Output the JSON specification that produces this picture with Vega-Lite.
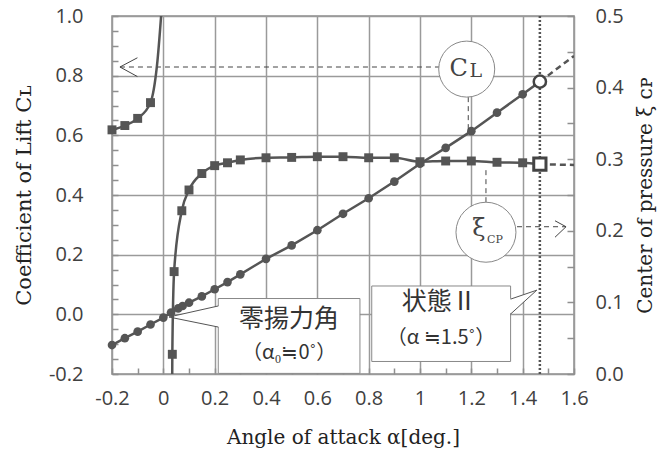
{
  "$schema": "https://vega.github.io/schema/vega-lite/v6.json",
  "width": 462,
  "height": 358,
  "autosize": {"type": "none"},
  "padding": {"left": 112, "top": 16, "right": 92, "bottom": 87},
  "background": "white",
  "config": {
    "view": {"stroke": "#8f8f8f", "strokeWidth": 1.5},
    "axis": {
      "labelFont": "Open Sans", "labelFontSize": 20, "labelColor": "#404040",
      "titleFont": "DejaVu Serif", "titleFontSize": 20, "titleFontWeight": "normal", "titleColor": "#222",
      "domain": false, "tickColor": "#8f8f8f", "tickWidth": 1.5, "gridColor": "#9a9a9a", "gridWidth": 1.5
    }
  },
  "datasets": {
    "cl": [
      {"x": -0.2, "y": -0.103, "m": 1}, {"x": -0.15, "y": -0.08, "m": 1}, {"x": -0.1, "y": -0.058, "m": 1}, {"x": -0.05, "y": -0.034, "m": 1},
      {"x": 0.0, "y": -0.011, "m": 1}, {"x": 0.03, "y": 0.006, "m": 1}, {"x": 0.058, "y": 0.02, "m": 1}, {"x": 0.075, "y": 0.028, "m": 1},
      {"x": 0.1, "y": 0.039, "m": 1}, {"x": 0.15, "y": 0.06, "m": 1}, {"x": 0.2, "y": 0.084, "m": 1}, {"x": 0.25, "y": 0.108, "m": 1},
      {"x": 0.3, "y": 0.134, "m": 1}, {"x": 0.4, "y": 0.186, "m": 1}, {"x": 0.5, "y": 0.231, "m": 1}, {"x": 0.6, "y": 0.282, "m": 1},
      {"x": 0.7, "y": 0.337, "m": 1}, {"x": 0.8, "y": 0.389, "m": 1}, {"x": 0.9, "y": 0.445, "m": 1}, {"x": 1.0, "y": 0.505, "m": 1},
      {"x": 1.1, "y": 0.558, "m": 1}, {"x": 1.2, "y": 0.614, "m": 1}, {"x": 1.3, "y": 0.676, "m": 1}, {"x": 1.4, "y": 0.7375, "m": 1},
      {"x": 1.467, "y": 0.78, "m": 0}
    ],
    "cl_state": [{"x": 1.467, "y": 0.78}],
    "cl_ext": [{"x": 1.467, "y": 0.78}, {"x": 1.6, "y": 0.866}],
    "state_line": [{"x": 1.467}],
    "cl_dash": [
      {"x": -0.169, "y": 0.829, "x2": 1.074, "y2": 0.829},
      {"x": 1.188, "y": 0.728, "x2": 1.188, "y2": 0.612}
    ],
    "cl_solid": [
      {"x": -0.169, "y": 0.829, "x2": -0.101, "y2": 0.86},
      {"x": -0.169, "y": 0.829, "x2": -0.101, "y2": 0.797}
    ],
    "cl_bubble": [{"x": 1.182, "y": 0.822}],
    "boxes": [
      {"x": 0.214, "x2": 0.766, "y": 0.053, "y2": -0.198},
      {"x": 0.812, "x2": 1.353, "y": 0.095, "y2": -0.158}
    ],
    "wedges": [
      {"x": 0.022, "y": -0.009, "y2": -0.009},
      {"x": 0.218, "y": 0.028, "y2": -0.0426}
    ],
    "wedges2": [
      {"x": 1.349, "y": 0.051, "y2": 0.001},
      {"x": 1.455, "y": 0.081, "y2": 0.081}
    ],
    "wedge_lines": [
      {"x": 0.022, "y": -0.009, "x2": 0.214, "y2": 0.028},
      {"x": 0.022, "y": -0.009, "x2": 0.214, "y2": -0.0426},
      {"x": 1.455, "y": 0.081, "x2": 1.353, "y2": 0.051},
      {"x": 1.455, "y": 0.081, "x2": 1.353, "y2": 0.001}
    ],
    "xi": [
      {"x": -0.2, "y": 0.341, "b": "L", "m": 1}, {"x": -0.15, "y": 0.347, "b": "L", "m": 1},
      {"x": -0.1, "y": 0.357, "b": "L", "m": 1}, {"x": -0.05, "y": 0.379, "b": "L", "m": 1},
      {"x": -0.025, "y": 0.43, "b": "L", "m": 0}, {"x": 0.003, "y": 0.56, "b": "L", "m": 0},
      {"x": 0.033, "y": -0.15, "b": "R", "m": 0}, {"x": 0.035, "y": 0.0275, "b": "R", "m": 1},
      {"x": 0.042, "y": 0.143, "b": "R", "m": 1}, {"x": 0.072, "y": 0.228, "b": "R", "m": 1},
      {"x": 0.1, "y": 0.257, "b": "R", "m": 1}, {"x": 0.15, "y": 0.28, "b": "R", "m": 1},
      {"x": 0.2, "y": 0.291, "b": "R", "m": 1}, {"x": 0.25, "y": 0.295, "b": "R", "m": 1},
      {"x": 0.3, "y": 0.299, "b": "R", "m": 1}, {"x": 0.4, "y": 0.302, "b": "R", "m": 1},
      {"x": 0.5, "y": 0.3025, "b": "R", "m": 1}, {"x": 0.6, "y": 0.3035, "b": "R", "m": 1},
      {"x": 0.7, "y": 0.3035, "b": "R", "m": 1}, {"x": 0.8, "y": 0.302, "b": "R", "m": 1},
      {"x": 0.9, "y": 0.302, "b": "R", "m": 1}, {"x": 1.0, "y": 0.2965, "b": "R", "m": 1},
      {"x": 1.1, "y": 0.2975, "b": "R", "m": 1}, {"x": 1.2, "y": 0.2975, "b": "R", "m": 1},
      {"x": 1.3, "y": 0.2957, "b": "R", "m": 1}, {"x": 1.4, "y": 0.295, "b": "R", "m": 1},
      {"x": 1.467, "y": 0.293, "b": "R", "m": 0}
    ],
    "xi_state": [{"x": 1.467, "y": 0.293}],
    "xi_ext": [{"x": 1.467, "y": 0.293}, {"x": 1.6, "y": 0.292}],
    "xi_bubble": [{"x": 1.257, "y": 0.198}],
    "xi_dash": [
      {"x": 1.378, "y": 0.2057, "x2": 1.569, "y2": 0.2057},
      {"x": 1.257, "y": 0.24, "x2": 1.257, "y2": 0.29}
    ],
    "xi_solid": [
      {"x": 1.569, "y": 0.2057, "x2": 1.526, "y2": 0.214},
      {"x": 1.569, "y": 0.2057, "x2": 1.526, "y2": 0.191}
    ]
  },
  "encoding": {
    "x": {
      "field": "x", "type": "quantitative",
      "scale": {"domain": [-0.2, 1.6], "nice": false, "zero": false},
      "axis": {
        "orient": "bottom",
        "values": [-0.2, -0.1, 0, 0.1, 0.2, 0.3, 0.4, 0.5, 0.6, 0.7, 0.8, 0.9, 1, 1.1, 1.2, 1.3, 1.4, 1.5, 1.6],
        "labelExpr": "abs(round(datum.value*10)) % 2 == 0 ? toString(round(datum.value*10)/10) : ''",
        "gridOpacity": {"condition": {"test": "abs(round(datum.value*10)) % 2 == 0", "value": 1}, "value": 0},
        "tickSize": -6,
        "labelPadding": 20,
        "labelFlush": false,
        "title": "Angle of attack  α[deg.]",
        "titlePadding": 19
      }
    }
  },
  "layer": [
    {
      "encoding": {
        "y": {
          "field": "y", "type": "quantitative",
          "scale": {"domain": [-0.2, 1.0], "nice": false, "zero": false},
          "axis": {
            "orient": "left",
            "values": [-0.2, -0.15, -0.1, -0.05, 0, 0.05, 0.1, 0.15, 0.2, 0.25, 0.3, 0.35, 0.4, 0.45, 0.5, 0.55, 0.6, 0.65, 0.7, 0.75, 0.8, 0.85, 0.9, 0.95, 1.0],
            "labelExpr": "abs(round(datum.value*20)) % 4 == 0 ? replace(format(datum.value, '.1f'), '\u2212', '-') : ''",
            "gridOpacity": {"condition": {"test": "abs(round(datum.value*20)) % 4 == 0", "value": 1}, "value": 0},
            "tickSize": -6,
            "labelPadding": 35,
            "labelFlush": false,
            "title": "Coefficient of Lift  Cʟ",
            "titleFontSize": 21,
            "titlePadding": 14
          }
        }
      },
      "layer": [
        {"data": {"name": "cl"}, "mark": {"type": "line", "color": "#555", "strokeWidth": 2.5}},
        {"data": {"name": "cl_ext"}, "mark": {"type": "line", "color": "#555", "strokeWidth": 2.5, "strokeDash": [6, 4], "clip": true}},
        {"data": {"name": "cl"}, "transform": [{"filter": "datum.m == 1"}], "mark": {"type": "point", "shape": "circle", "filled": true, "color": "#555", "size": 75, "opacity": 1}},
        {"data": {"name": "state_line"}, "mark": {"type": "rule", "color": "#555", "strokeWidth": 2.5, "strokeDash": [2, 2]}, "encoding": {"y": null}},
        {"data": {"name": "cl_state"}, "mark": {"type": "point", "shape": "circle", "filled": true, "fill": "white", "stroke": "#444", "strokeWidth": 2.5, "size": 150, "opacity": 1}},
        {"data": {"name": "cl_dash"}, "mark": {"type": "rule", "color": "#444", "strokeWidth": 1, "strokeDash": [5, 4]}, "encoding": {"x2": {"field": "x2"}, "y2": {"field": "y2"}}},
        {"data": {"name": "cl_solid"}, "mark": {"type": "rule", "color": "#444", "strokeWidth": 1}, "encoding": {"x2": {"field": "x2"}, "y2": {"field": "y2"}}},
        {"data": {"name": "cl_bubble"}, "mark": {"type": "point", "shape": "circle", "filled": true, "fill": "white", "stroke": "#888", "strokeWidth": 1, "size": 3136, "opacity": 1}},
        {"data": {"name": "cl_bubble"}, "mark": {"type": "text", "text": "C", "font": "DejaVu Serif", "fontSize": 24, "color": "#444", "dx": -8, "baseline": "middle"}},
        {"data": {"name": "cl_bubble"}, "mark": {"type": "text", "text": "L", "font": "DejaVu Serif", "fontSize": 19, "color": "#444", "dx": 9, "dy": 2, "baseline": "middle"}},
        {"data": {"name": "boxes"}, "mark": {"type": "rect", "fill": "white", "stroke": "#888", "strokeWidth": 1}, "encoding": {"x2": {"field": "x2"}, "y2": {"field": "y2"}}},
        {"data": {"name": "wedges"}, "mark": {"type": "area", "fill": "white", "opacity": 1}, "encoding": {"y2": {"field": "y2"}}},
        {"data": {"name": "wedges2"}, "mark": {"type": "area", "fill": "white", "opacity": 1}, "encoding": {"y2": {"field": "y2"}}},
        {"data": {"name": "wedge_lines"}, "mark": {"type": "rule", "color": "#555", "strokeWidth": 1}, "encoding": {"x2": {"field": "x2"}, "y2": {"field": "y2"}}},
        {"data": {"values": [{"x": 0.49, "y": -0.016, "t": "零揚力角"}, {"x": 1.075, "y": 0.041, "t": "状態Ⅱ"}]}, "mark": {"type": "text", "font": "Noto Sans CJK JP", "fontSize": 25, "color": "#333", "baseline": "middle"}, "encoding": {"text": {"field": "t"}}},
        {"data": {"values": [{"x": 0.49, "y": -0.129, "t": "（α₀≒0˚）"}, {"x": 1.082, "y": -0.081, "t": "（α ≒1.5˚）"}]}, "mark": {"type": "text", "font": "Noto Sans CJK JP", "fontSize": 20, "color": "#333", "baseline": "middle"}, "encoding": {"text": {"field": "t"}}}
      ]
    },
    {
      "encoding": {
        "y": {
          "field": "y", "type": "quantitative",
          "scale": {"domain": [0, 0.5], "nice": false, "zero": false},
          "axis": {
            "orient": "right",
            "values": [0, 0.05, 0.1, 0.15, 0.2, 0.25, 0.3, 0.35, 0.4, 0.45, 0.5],
            "labelExpr": "round(datum.value*20) % 2 == 0 ? format(datum.value, '.1f') : ''",
            "grid": false,
            "tickSize": -7,
            "labelPadding": 28,
            "labelFlush": false,
            "title": "Center of pressure  ξ ᴄᴘ",
            "titleAngle": 270,
            "titleBaseline": "top",
            "titlePadding": 12
          }
        }
      },
      "layer": [
        {"data": {"name": "xi"}, "mark": {"type": "line", "color": "#555", "strokeWidth": 2.5, "interpolate": "monotone", "clip": true}, "encoding": {"detail": {"field": "b"}}},
        {"data": {"name": "xi_ext"}, "mark": {"type": "line", "color": "#555", "strokeWidth": 2.5, "strokeDash": [6, 4]}},
        {"data": {"name": "xi"}, "transform": [{"filter": "datum.m == 1"}], "mark": {"type": "point", "shape": "square", "filled": true, "color": "#555", "size": 80, "opacity": 1}},
        {"data": {"name": "xi_state"}, "mark": {"type": "point", "shape": "square", "filled": true, "fill": "white", "stroke": "#444", "strokeWidth": 3, "size": 150, "opacity": 1}},
        {"data": {"name": "xi_dash"}, "mark": {"type": "rule", "color": "#444", "strokeWidth": 1, "strokeDash": [5, 4]}, "encoding": {"x2": {"field": "x2"}, "y2": {"field": "y2"}}},
        {"data": {"name": "xi_solid"}, "mark": {"type": "rule", "color": "#444", "strokeWidth": 1}, "encoding": {"x2": {"field": "x2"}, "y2": {"field": "y2"}}},
        {"data": {"name": "xi_bubble"}, "mark": {"type": "point", "shape": "circle", "filled": true, "fill": "white", "stroke": "#888", "strokeWidth": 1, "size": 3600, "opacity": 1}},
        {"data": {"name": "xi_bubble"}, "mark": {"type": "text", "text": "ξ", "font": "DejaVu Serif", "fontSize": 24, "color": "#444", "dx": -7, "dy": -3, "baseline": "middle"}},
        {"data": {"name": "xi_bubble"}, "mark": {"type": "text", "text": "CP", "font": "DejaVu Serif", "fontSize": 11, "color": "#444", "dx": 9, "dy": 8, "baseline": "middle"}}
      ]
    }
  ],
  "resolve": {"scale": {"y": "independent"}, "axis": {"y": "independent"}}
}
